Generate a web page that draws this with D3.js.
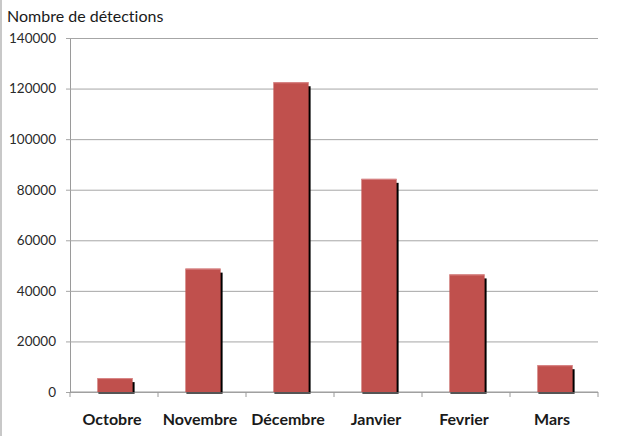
<!DOCTYPE html>
<html>
<head>
<meta charset="utf-8">
<script src="https://cdn.jsdelivr.net/npm/d3@7"></script>
<style>
  html, body { margin: 0; padding: 0; background: #fff; }
  svg { display: block; }
  text { font-variant-ligatures: none; }
</style>
</head>
<body>
<svg id="chart" width="622" height="436"></svg>
<script>
// Monthly detection counts
const months = ["Octobre", "Novembre", "Décembre", "Janvier", "Fevrier", "Mars"];
const detections = [5500, 48800, 122500, 84300, 46500, 10600];
const yTicks = [0, 20000, 40000, 60000, 80000, 100000, 120000, 140000];
const yTitle = "Nombre de détections";

const W = 622, H = 436;
const margin = { left: 70, right: 24, top: 38, bottom: 44 };
const svg = d3.select("#chart");

const x = d3.scaleBand()
  .domain(months)
  .range([margin.left, W - margin.right])
  .paddingInner(0.6)
  .paddingOuter(0.3);

// band boundaries for the category tick marks
const step = (W - margin.right - margin.left) / months.length;

const y = d3.scaleLinear()
  .domain([0, 140000])
  .range([H - margin.bottom, margin.top]);

// left frame edge
svg.append("line")
  .attr("x1", 1).attr("x2", 1).attr("y1", 0).attr("y2", H)
  .attr("stroke", "#c8c8c8").attr("stroke-width", 2);

// horizontal gridlines + y axis labels
const yAxis = d3.axisLeft(y)
  .tickValues(yTicks)
  .tickSize(-(W - margin.right - margin.left))
  .tickSizeOuter(0)
  .tickPadding(14)
  .tickFormat(d3.format("d"));

const gy = svg.append("g")
  .attr("transform", `translate(${margin.left},0)`)
  .call(yAxis);
gy.select(".domain").attr("stroke", "#9a9a9a");
gy.selectAll(".tick line")
  .attr("x1", -4)
  .attr("stroke", "#a6a6a6");
gy.selectAll(".tick text")
  .attr("fill", "#2a2a2a")
  .style("font-family", "Lato, 'Open Sans', sans-serif")
  .style("font-size", "13.5px");

// x axis baseline and category ticks
const base = y(0);
svg.append("line")
  .attr("x1", margin.left).attr("x2", W - margin.right)
  .attr("y1", base).attr("y2", base)
  .attr("stroke", "#9a9a9a");
svg.selectAll("line.xtick")
  .data(d3.range(months.length + 1))
  .join("line")
  .attr("class", "xtick")
  .attr("x1", i => margin.left + i * step)
  .attr("x2", i => margin.left + i * step)
  .attr("y1", base).attr("y2", base + 5)
  .attr("stroke", "#9a9a9a");

const data = months.map((m, i) => ({ m, v: detections[i] }));

// drop shadows behind each bar
svg.selectAll("rect.shadow")
  .data(data)
  .join("rect")
  .attr("class", "shadow")
  .attr("x", d => x(d.m) + x.bandwidth() - 1)
  .attr("y", d => y(d.v) + 4)
  .attr("width", 4)
  .attr("height", d => base - y(d.v) - 4)
  .attr("fill", "#000");
svg.selectAll("rect.shadowBase")
  .data(data)
  .join("rect")
  .attr("class", "shadowBase")
  .attr("x", d => x(d.m) + 2)
  .attr("y", base)
  .attr("width", x.bandwidth() + 1)
  .attr("height", 2)
  .attr("fill", "#555");

// bars
svg.selectAll("rect.bar")
  .data(data)
  .join("rect")
  .attr("class", "bar")
  .attr("x", d => x(d.m) + 1)
  .attr("y", d => y(d.v))
  .attr("width", x.bandwidth())
  .attr("height", d => base - y(d.v))
  .attr("fill", "#c0504d");
svg.selectAll("line.barTop")
  .data(data)
  .join("line")
  .attr("class", "barTop")
  .attr("x1", d => x(d.m) + 1).attr("x2", d => x(d.m) + 1 + x.bandwidth())
  .attr("y1", d => y(d.v) + 0.5).attr("y2", d => y(d.v) + 0.5)
  .attr("stroke", "#d9898a");

// category labels
svg.selectAll("text.cat")
  .data(months)
  .join("text")
  .attr("class", "cat")
  .attr("x", m => x(m) + x.bandwidth() / 2 - 2)
  .attr("y", 425)
  .attr("text-anchor", "middle")
  .attr("fill", "#1a1a1a")
  .style("font-family", "Lato, 'Open Sans', sans-serif")
  .style("font-weight", "bold")
  .style("font-size", "16px")
  .text(m => m);

// value axis title
svg.append("text")
  .attr("x", 7)
  .attr("y", 22)
  .attr("fill", "#1a1a1a")
  .style("font-family", "Lato, 'Open Sans', sans-serif")
  .style("font-size", "16px")
  .text(yTitle);
</script>
</body>
</html>
